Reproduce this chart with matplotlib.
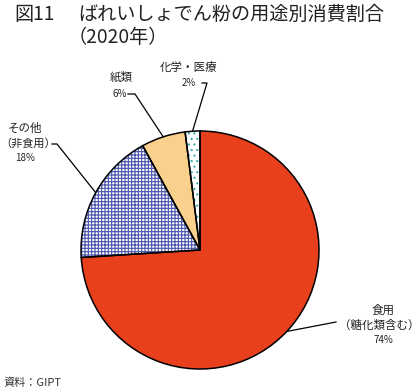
import numpy as np
import matplotlib
matplotlib.use('Agg')
import matplotlib.pyplot as plt

plt.rcParams['font.family'] = ['Noto Sans CJK JP', 'DejaVu Sans']
plt.rcParams['hatch.linewidth'] = 0.8

# data
categories = ['食用\n（糖化類含む）', 'その他\n（非食用）', '紙類', '化学・医療']
shares = [74, 18, 6, 2]
face_colors = ['#e8401c', 'white', '#f9d08c', 'white']
hatch_colors = ['#e8401c', '#4a56ac', '#f9d08c', '#3fa9ad']
hatches = [None, '+++++', None, '...']

W, H = 420, 392
center = (200, H - 250)
radius = 119

fig = plt.figure(figsize=(W / 100, H / 100), dpi=100)
ax = fig.add_axes([0, 0, 1, 1])

wedges, _ = ax.pie(shares, center=center, radius=radius, startangle=90,
                   counterclock=False, colors=face_colors, frame=True,
                   wedgeprops=dict(linewidth=0))
for w, hc, h in zip(wedges, hatch_colors, hatches):
    w.set_edgecolor(hc)
    if h:
        w.set_hatch(h)

ax.pie(shares, center=center, radius=radius, startangle=90,
       counterclock=False, frame=True,
       wedgeprops=dict(fill=False, edgecolor='black', linewidth=1.1))

ax.set_xlim(0, W)
ax.set_ylim(0, H)
ax.set_aspect('equal')
ax.axis('off')


def px(x, y):
    return x, H - y


# labels: (lines of text, text centre positions), then leader elbow points
label_text = [
    (['食用', '（糖化類含む）', '74%'], [(383, 310), (379, 325), (383, 340)]),
    (['その他', '（非食用）', '18%'], [(25, 128), (28, 144), (25, 158)]),
    (['紙類', '6%'], [(121, 77), (120, 94)]),
    (['化学・医療', '2%'], [(189, 67), (189, 83)]),
]
elbows = [
    [(336, 322)],
    [(52, 144), (57, 144)],
    [(128, 94), (135, 94)],
    [(202, 83), (207, 83)],
]
sizes = [[8.3, 8.3, 7], [8.3, 8, 7], [8.3, 7], [8.3, 7]]

for w, (lines, pos), elb, sz in zip(wedges, label_text, elbows, sizes):
    for t, (x, y), s in zip(lines, pos, sz):
        ax.text(*px(x, y), t, ha='center', va='center', fontsize=s, color='#222222')
    mid = np.deg2rad((w.theta1 + w.theta2) / 2)
    tip = (center[0] + radius * np.cos(mid), center[1] + radius * np.sin(mid))
    pts = [px(x, y) for x, y in elb] + [tip]
    ax.plot([p[0] for p in pts], [p[1] for p in pts], color='black', lw=0.9)

# title
ax.text(*px(14, 14), '図11', ha='left', va='center', fontsize=13.8, color='#222222')
ax.text(*px(78, 14), 'ばれいしょでん粉の用途別消費割合', ha='left', va='center',
        fontsize=13.8, color='#222222')
ax.text(*px(68, 37), '（2020年）', ha='left', va='center', fontsize=13.8, color='#222222')

ax.text(*px(4, 383), '資料：GIPT', ha='left', va='center', fontsize=8, color='#333333')

fig.savefig('out.png', dpi=100)
